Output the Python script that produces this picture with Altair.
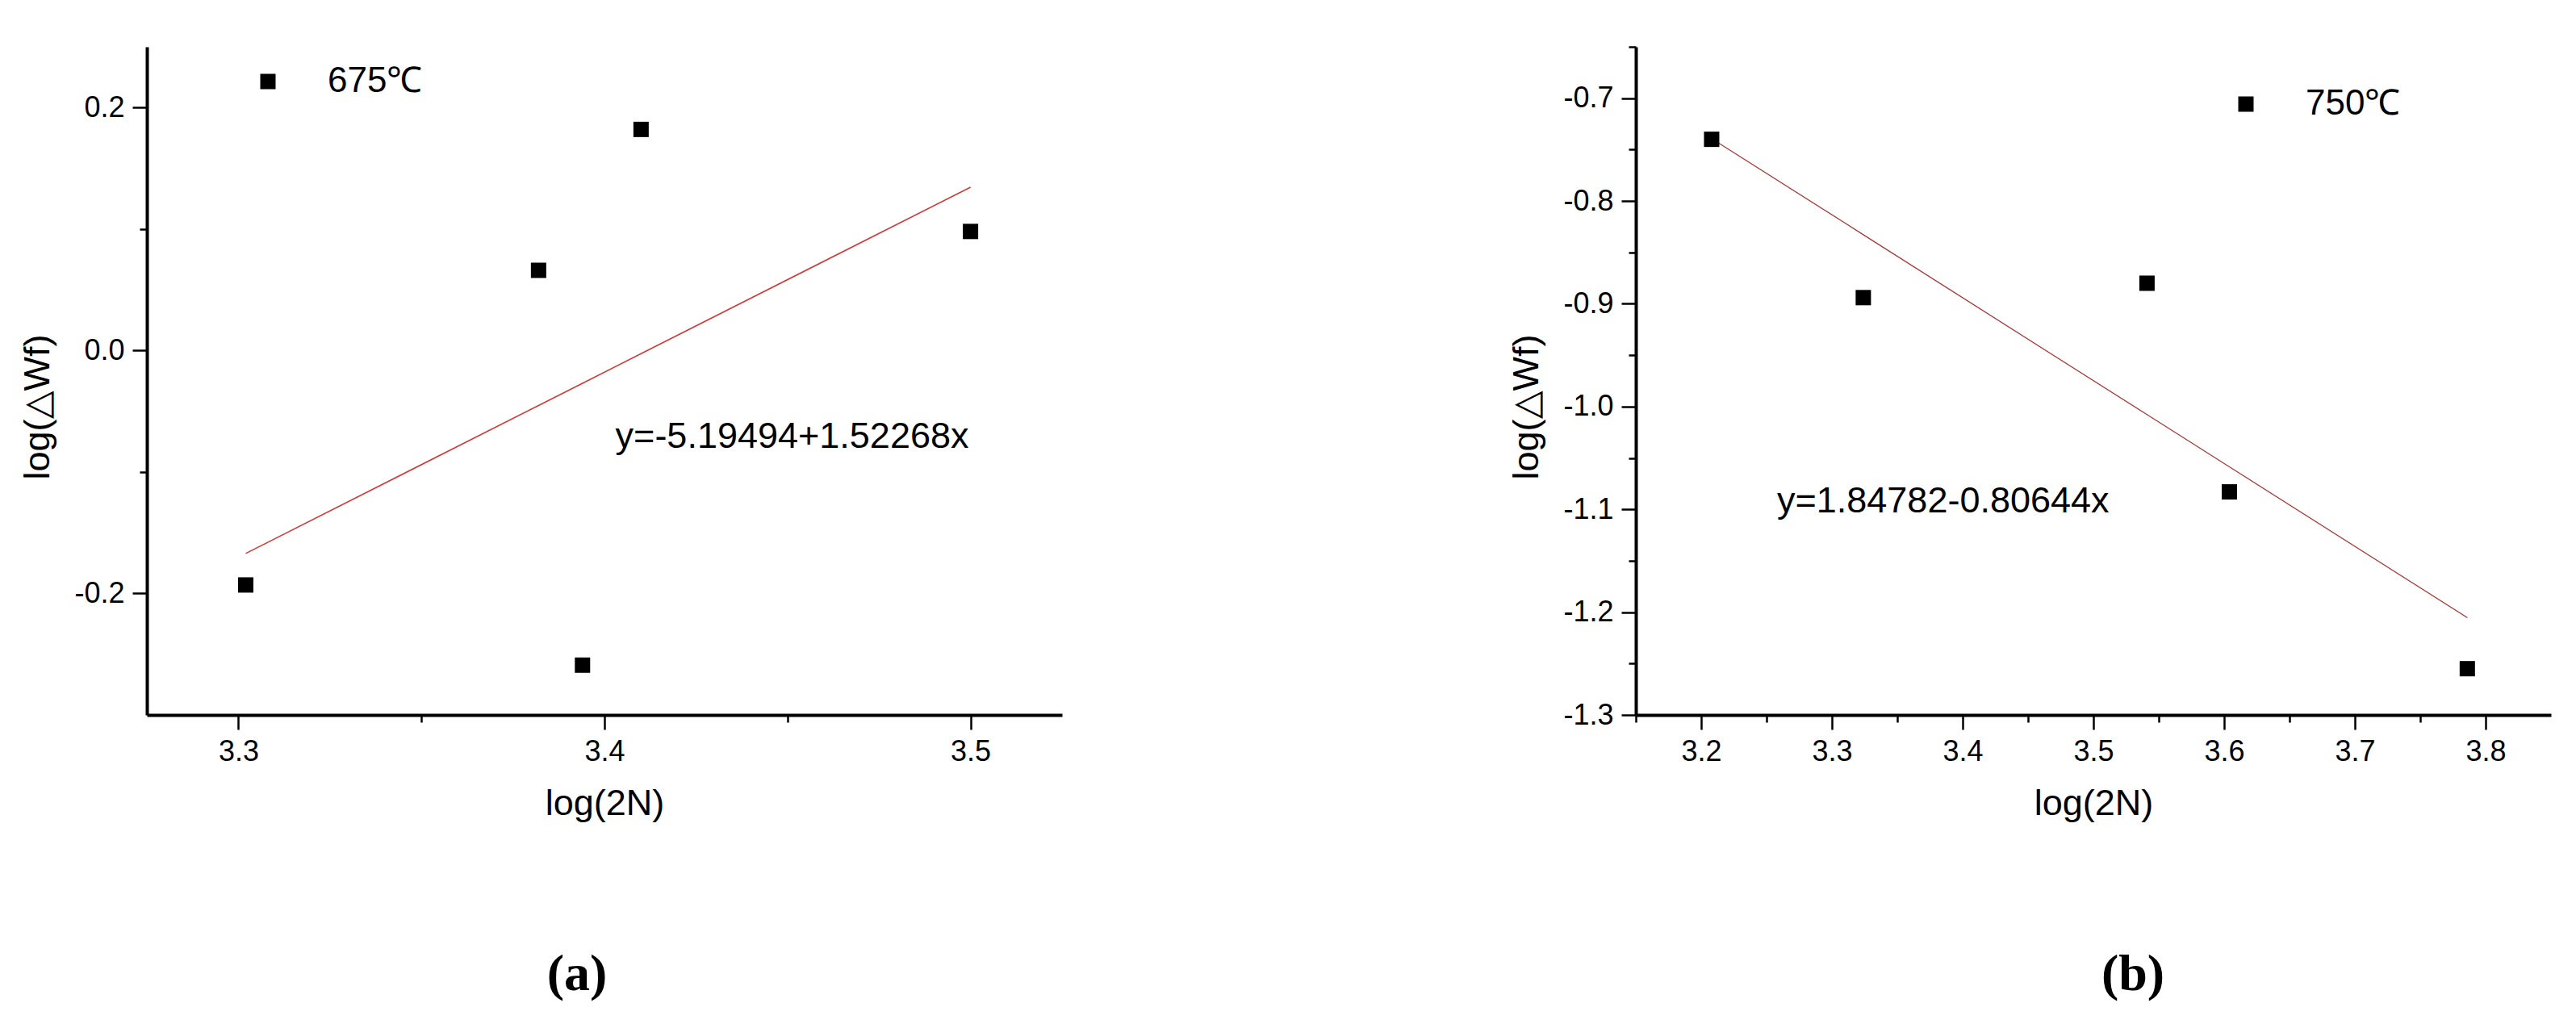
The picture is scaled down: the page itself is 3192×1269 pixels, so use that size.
import altair as alt
import pandas as pd

# ---------------- data ----------------
# panel (a): 675℃
a_series = "675℃"
a_x = [3.302, 3.382, 3.410, 3.394, 3.500]
a_y = [-0.193, 0.066, 0.182, -0.259, 0.098]
a_intercept = -5.19494
a_slope = 1.52268
a_equation = "y=-5.19494+1.52268x"
a_eq_x = [3.403]
a_eq_y = [-0.071]
a_x_ticks = [3.30, 3.35, 3.40, 3.45, 3.50]
a_y_ticks = [-0.2, -0.1, 0.0, 0.1, 0.2]

# panel (b): 750℃
b_series = "750℃"
b_x = [3.208, 3.324, 3.541, 3.604, 3.786]
b_y = [-0.740, -0.894, -0.880, -1.083, -1.255]
b_intercept = 1.84782
b_slope = -0.80644
b_equation = "y=1.84782-0.80644x"
b_eq_x = [3.258]
b_eq_y = [-1.092]
b_x_ticks = [3.15, 3.20, 3.25, 3.30, 3.35, 3.40, 3.45, 3.50, 3.55, 3.60, 3.65, 3.70, 3.75, 3.80]
b_y_ticks = [-1.30, -1.25, -1.20, -1.15, -1.10, -1.05, -1.00, -0.95, -0.90, -0.85,
             -0.80, -0.75, -0.70, -0.65]

x_title = "log(2N)"
y_title = "log(△Wf)"

SANS = "Liberation Sans"
SERIF = "Liberation Serif"


def minor_test(step):
    return f"abs(round(datum.value/{step}) - datum.value/{step}) > 0.01"


def make_axis(values, step, title, title_padding, title_y=None):
    t = minor_test(step)
    kw = {}
    if title_y is not None:
        kw["titleY"] = title_y
    return alt.Axis(
        values=values,
        title=title,
        labelExpr=f"{t} ? '' : replace(format(datum.value, '.1f'), '\u2212', '-')",
        tickSize={"condition": {"test": t, "value": 9}, "value": 18},
        tickWidth=2.5,
        tickColor="black",
        domainColor="black",
        domainWidth=4,
        labelFont=SANS,
        labelFontSize=36,
        labelColor="black",
        labelPadding=10,
        titleFont=SANS,
        titleFontSize=45,
        titleFontWeight="normal",
        titleColor="black",
        titlePadding=title_padding,
        grid=False,
        **kw,
    )


def panel(xs, ys, series, b0, b1, eq, eqx, eqy, xdom, ydom, xticks, xstep,
          yticks, ystep, tag, line_color, line_width, leg_x, leg_y, title_dx):
    df = pd.DataFrame({"x": xs, "y": ys, "series": [series] * len(xs)})
    eq_df = pd.DataFrame({"x": eqx, "y": eqy, "label": [eq]})
    xsc = alt.Scale(domain=xdom, nice=False, zero=False)
    ysc = alt.Scale(domain=ydom, nice=False, zero=False)
    xax = make_axis(xticks, xstep, x_title, 24)
    yax = make_axis(yticks, ystep, y_title, 22, title_y=446)

    base = alt.Chart(df)
    fit = base.transform_calculate(
        fit=f"{b0} + ({b1}) * datum.x"
    ).mark_line(color=line_color, strokeWidth=line_width).encode(
        x=alt.X("x:Q", scale=xsc, axis=xax),
        y=alt.Y("fit:Q", scale=ysc, axis=yax),
    )
    pts = base.mark_square(size=361, opacity=1, filled=True).encode(
        x=alt.X("x:Q", scale=xsc, axis=xax),
        y=alt.Y("y:Q", scale=ysc, axis=yax),
        color=alt.Color(
            "series:N",
            scale=alt.Scale(domain=[series], range=["black"]),
            legend=alt.Legend(
                title=None,
                orient="none",
                legendX=leg_x,
                legendY=leg_y,
                symbolType="square",
                symbolSize=361,
                symbolStrokeWidth=0,
                labelFont=SANS,
                labelFontSize=44,
                labelColor="black",
                labelOffset=52,
                padding=0,
            ),
        ),
    )
    txt = alt.Chart(eq_df).mark_text(
        align="left", baseline="middle", font=SANS, fontSize=45, color="black"
    ).encode(
        x=alt.X("x:Q", scale=xsc, axis=xax),
        y=alt.Y("y:Q", scale=ysc, axis=yax),
        text="label:N",
    )
    return alt.layer(fit, pts, txt).properties(
        width=1134,
        height=828,
        title=alt.TitleParams(
            tag,
            orient="bottom",
            anchor="middle",
            frame="group",
            font=SERIF,
            fontSize=64,
            fontWeight="bold",
            color="black",
            offset=158,
            dx=title_dx,
        ),
    )


left = panel(a_x, a_y, a_series, a_intercept, a_slope, a_equation, a_eq_x, a_eq_y,
             [3.275, 3.525], [-0.30, 0.25], a_x_ticks, 0.1, a_y_ticks, 0.2,
             "(a)", "#d23a3a", 1.6, 128, 21, -34)
right = panel(b_x, b_y, b_series, b_intercept, b_slope, b_equation, b_eq_x, b_eq_y,
              [3.15, 3.85], [-1.30, -0.65], b_x_ticks, 0.1, b_y_ticks, 0.1,
              "(b)", "#a83838", 1.3, 734, 49, 49)

chart = alt.hconcat(left, right, spacing=553).resolve_scale(
    x="independent", y="independent", color="independent"
).resolve_legend(color="independent").properties(
    padding={"left": 16, "top": 48, "right": 5, "bottom": 5},
    background="white",
).configure_view(stroke=None)

chart.save("out.html", embed_options={"renderer": "svg", "actions": False})
